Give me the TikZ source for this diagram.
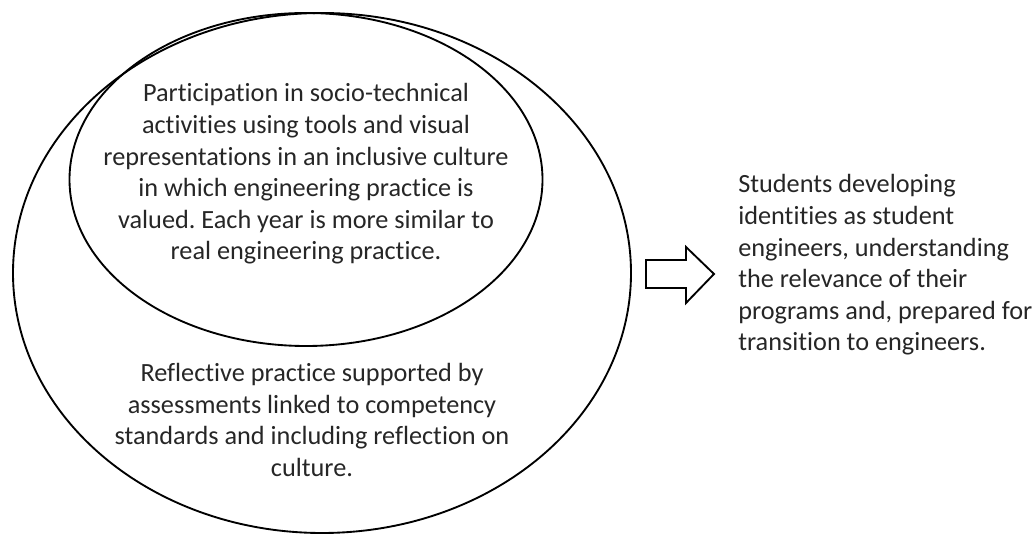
\documentclass[tikz,border=0pt]{standalone}
\usepackage{xcolor}
\usepackage{fontspec}
\setmainfont[Ligatures=NoCommon]{Carlito}
\usetikzlibrary{shapes.geometric}
\frenchspacing

\begin{document}
\begin{tikzpicture}
    % 样式: 椭圆结点和文字结点 (1个单位 = 1像素)
    [x=0.75pt, y=-0.75pt,
    OvalNode/.style={ellipse, draw=black, line width=1.4pt, inner sep=0pt},
    TextNode/.style={align=center, inner sep=0pt, font=\fontsize{19.7}{23.7}\selectfont, text=black!85}]

    % 画布大小
    \useasboundingbox (0,0) rectangle (1033,534);

    % 外层椭圆和内层椭圆
    \node[OvalNode, minimum width=463.5pt, minimum height=390pt] (outer) at (322,273) {};
    \node[OvalNode, minimum width=354.75pt, minimum height=249.75pt] (inner) at (306,179.5) {};

    % 内层椭圆中的文字
    \node[TextNode] (t_in) at (306,174) {Participation in socio-technical\\activities using tools and visual\\representations in an inclusive culture\\in which engineering practice is\\valued. Each year is more similar to\\real engineering practice.};

    % 外层椭圆中的文字
    \node[TextNode] (t_out) at (312,420) {Reflective practice supported by\\assessments linked to competency\\standards and including reflection on\\culture.};

    % 空心箭头
    \draw[line width=1.4pt, line join=miter] (646,260) -- (686,260) -- (686,247) -- (714,274)
        -- (686,303) -- (686,288) -- (646,288) -- cycle;

    % 右侧结果文字
    \node[TextNode, align=left, anchor=west] (t_res) at (738,265) {Students developing\\identities as student\\engineers, understanding\\the relevance of their\\programs and, prepared for\\transition to engineers.};
\end{tikzpicture}
\end{document}
